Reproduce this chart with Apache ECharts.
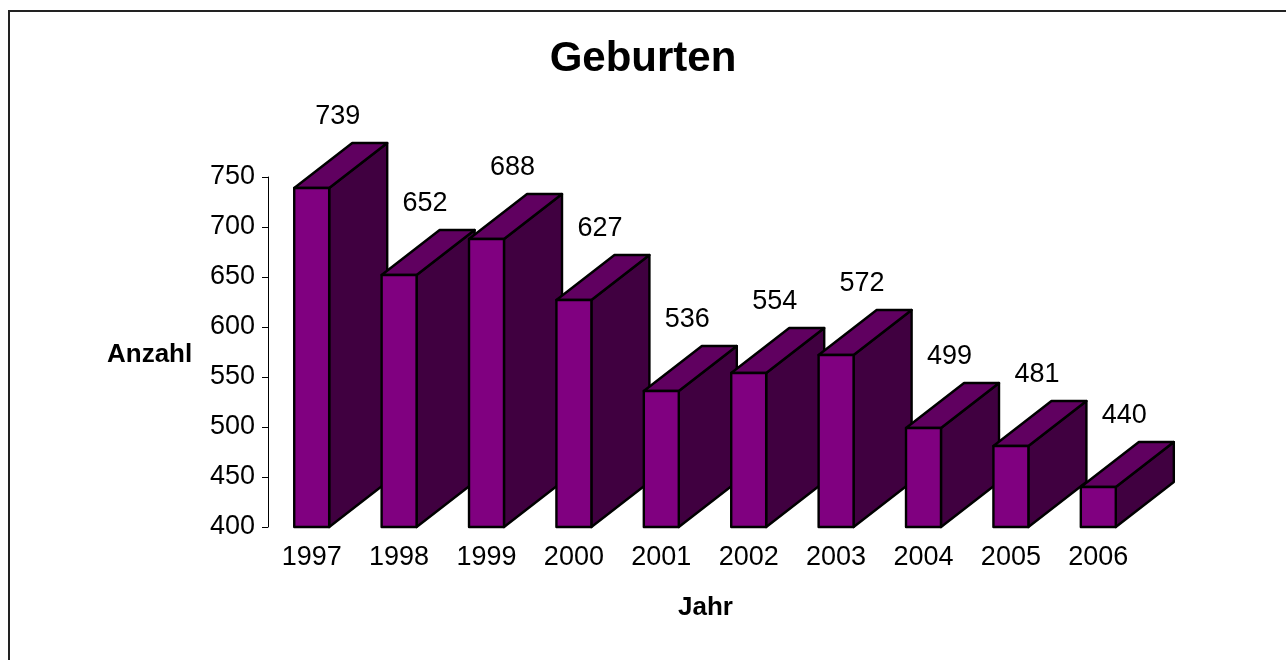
<!DOCTYPE html>
<html lang="de">
<head>
    <meta charset="UTF-8">
    <title>Geburten</title>
    <script type="text/javascript" src="https://cdn.jsdelivr.net/npm/echarts@6/dist/echarts.min.js"></script>
    <style>
        html, body { margin: 0; padding: 0; background: #fff; }
    </style>
</head>
<body>
<div id="main" style="width: 1286px;height:660px;"></div>

<script>
    // Daten
    var years = ['1997', '1998', '1999', '2000', '2001', '2002', '2003', '2004', '2005', '2006'];
    var births = [739, 652, 688, 627, 536, 554, 572, 499, 481, 440];
    var yMin = 400, yMax = 750, yStep = 50;

    var font = 'Liberation Sans, Arial, sans-serif';

    // 3D-Saeule: Vorderseite, Deckel, Seite
    function renderBar(params, api) {
        var i = api.value(0), v = api.value(1);
        var top = api.coord([i, v]);
        var bot = api.coord([i, yMin]);
        var band = api.size([1, 0])[0];
        var w = band * 0.4, dx = band * 0.664, dy = band * 0.515;
        var x0 = top[0] - w / 2, x1 = top[0] + w / 2, yt = top[1], yb = bot[1];
        var line = { stroke: '#000', lineWidth: 2.4, lineJoin: 'round' };
        return {
            type: 'group',
            children: [
                { type: 'polygon', shape: { points: [[x1, yt], [x1 + dx, yt - dy], [x1 + dx, yb - dy], [x1, yb]] },
                  style: Object.assign({ fill: '#400040' }, line) },
                { type: 'polygon', shape: { points: [[x0, yt], [x1, yt], [x1 + dx, yt - dy], [x0 + dx, yt - dy]] },
                  style: Object.assign({ fill: '#600060' }, line) },
                { type: 'rect', shape: { x: x0, y: yt, width: w, height: yb - yt },
                  style: Object.assign({ fill: '#800080' }, line) },
                { type: 'text', z2: 100,
                  style: { text: String(v), x: top[0] + 26, y: yt - dy - 26, fill: '#000',
                           font: '27px ' + font, align: 'center', verticalAlign: 'middle' } }
            ]
        };
    }

    var myChart = echarts.init(document.getElementById('main'));
    myChart.setOption({
        animation: false,
        backgroundColor: '#fff',
        title: [
            { text: 'Geburten', left: 'center', top: 33,
              textStyle: { fontSize: 42, fontWeight: 'bold', color: '#000', fontFamily: font } },
            { text: 'Anzahl', left: 102, top: 337,
              textStyle: { fontSize: 26, fontWeight: 'bold', color: '#000', fontFamily: font } },
            { text: 'Jahr', left: 673, top: 590,
              textStyle: { fontSize: 26, fontWeight: 'bold', color: '#000', fontFamily: font } }
        ],
        graphic: [
            { type: 'rect', shape: { x: 9, y: 11, width: 1400, height: 800 },
              style: { fill: null, stroke: '#222', lineWidth: 2 } }
        ],
        grid: { left: 268, right: 144, top: 177, bottom: 133 },
        xAxis: {
            type: 'category',
            data: years,
            axisLine: { show: false },
            axisTick: { show: false },
            axisLabel: { margin: 17, fontSize: 27, color: '#000', fontFamily: font }
        },
        yAxis: {
            type: 'value',
            min: yMin,
            max: yMax,
            interval: yStep,
            axisLine: { show: true, lineStyle: { color: '#000', width: 1 } },
            axisTick: { show: true, length: 6, lineStyle: { color: '#000' } },
            axisLabel: { margin: 13, fontSize: 27, color: '#000', fontFamily: font },
            splitLine: { show: false }
        },
        series: [{
            type: 'custom',
            renderItem: renderBar,
            clip: false,
            data: births.map(function (v, i) { return [i, v]; })
        }]
    });
</script>

</body>
</html>
